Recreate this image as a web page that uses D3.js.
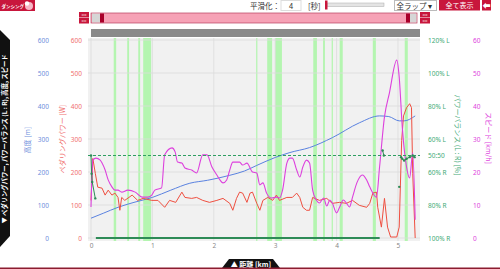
<!DOCTYPE html>
<html>
<head>
<meta charset="utf-8">
<script src="https://cdn.jsdelivr.net/npm/d3@7"></script>
<style>
  body { margin: 0; background: #fff; }
  svg { display: block; font-family: "Noto Sans CJK JP", "Noto Sans", sans-serif; }
</style>
</head>
<body>
<svg id="chart" width="500" height="269"></svg>
<script>
// ---- data ----
const xTicks = [0, 1, 2, 3, 4, 5];
const leftTicks = [0, 100, 200, 300, 400, 500, 600];
const speedTicks = [0, 10, 20, 30, 40, 50, 60];
const balanceTicks = [0, 20, 40, 50, 60, 80, 100, 120];
const balanceLabels = ["100% R", "80% R", "60% R", "50:50", "60% L", "80% L", "100% L", "120% L"];

// dancing sections [from km, to km]
const dancing = [
  [0.37, 0.41], [0.59, 0.62], [0.77, 0.80], [0.85, 0.98],
  [2.69, 2.71], [2.87, 2.95], [3.00, 3.11], [3.62, 3.68],
  [3.78, 3.81], [3.92, 3.94], [4.05, 4.10], [4.59, 4.64], [5.11, 5.16]
];

const elevKm = [0, 0.2, 0.44, 0.7, 1.0, 1.3, 1.61, 1.9, 2.26, 2.5, 2.7, 3.0, 3.24, 3.56, 3.93, 4.37, 4.7, 4.85, 5.02, 5.1, 5.28];
const elevation = [60, 75, 93, 108, 123, 145, 166, 175, 190, 203, 220, 244, 259, 274, 304, 349, 370, 368, 355, 355, 370];

const powerKm = [0, 0.03, 0.07, 0.11, 0.18, 0.23, 0.28, 0.34, 0.39, 0.44, 0.47, 0.50, 0.55, 0.67, 0.76, 0.85, 0.99,
  1.09, 1.20, 1.28, 1.38, 1.48, 1.53, 1.64, 1.72, 1.82, 1.93, 2.05, 2.15, 2.26, 2.31, 2.37, 2.42, 2.47, 2.54, 2.59,
  2.63, 2.70, 2.75, 2.80, 2.88, 2.96, 3.02, 3.07, 3.19, 3.28, 3.35, 3.40, 3.45, 3.51, 3.56, 3.61, 3.72, 3.84, 3.93,
  4.05, 4.16, 4.26, 4.37, 4.49, 4.54, 4.59, 4.65, 4.67, 4.73, 4.78, 4.83, 4.88, 4.98, 5.02, 5.06, 5.09, 5.14, 5.19,
  5.22, 5.24, 5.28];
const power = [114, 241, 196, 154, 151, 130, 145, 130, 136, 123, 84, 123, 114, 130, 114, 120, 114,
  114, 93, 114, 108, 139, 123, 120, 123, 114, 108, 114, 120, 105, 84, 120, 139, 136, 108, 136,
  139, 105, 84, 114, 123, 114, 130, 114, 123, 123, 136, 123, 93, 84, 84, 123, 114, 120, 105,
  108, 105, 114, 99, 93, 105, 136, 139, 93, 33, 120, 33, 3, 3, 33, 295, 370, 395, 407,
  395, 196, 0];

const speedKm = [0, 0.03, 0.08, 0.15, 0.18, 0.23, 0.28, 0.34, 0.39, 0.44, 0.50, 0.60, 0.72, 0.83, 0.93, 0.99,
  1.04, 1.15, 1.20, 1.32, 1.37, 1.41, 1.48, 1.53, 1.64, 1.72, 1.82, 1.89, 1.97, 2.05, 2.10, 2.15, 2.21, 2.26,
  2.31, 2.42, 2.47, 2.54, 2.63, 2.70, 2.75, 2.80, 2.86, 2.94, 3.02, 3.07, 3.12, 3.19, 3.24, 3.28, 3.35, 3.40,
  3.45, 3.51, 3.56, 3.61, 3.67, 3.72, 3.79, 3.84, 3.89, 3.93, 4.00, 4.05, 4.11, 4.16, 4.21, 4.26, 4.33, 4.42,
  4.49, 4.54, 4.65, 4.70, 4.78, 4.86, 4.98, 5.02, 5.07, 5.14, 5.19, 5.24, 5.28];
const speed = [9.4, 23.6, 24.2, 23.6, 22.7, 20.6, 17.6, 15.5, 14.5, 14.5, 13.9, 14.5, 13.9, 12.4, 12.4, 13.0,
  14.5, 15.2, 25.2, 27.3, 26.1, 23.0, 22.7, 21.2, 20.6, 19.7, 25.2, 25.2, 21.5, 19.1, 17.6, 16.7, 17.6, 20.6,
  23.0, 23.0, 22.1, 22.7, 20.0, 19.7, 16.1, 16.7, 13.6, 12.1, 12.4, 12.1, 14.5, 22.7, 24.2, 24.2, 20.6, 18.5,
  21.5, 23.6, 22.7, 14.5, 11.5, 10.6, 12.1, 9.7, 11.5, 10.6, 7.6, 9.4, 11.5, 10.6, 9.4, 12.4, 16.7, 19.1,
  17.6, 15.5, 12.4, 21.5, 36.7, 43.9, 53.9, 48.8, 33.6, 21.5, 18.2, 25.8, 5.5];

// L share in %, null = no reading
const balanceKm = [0, 0.01, 0.02, 0.07, null, 0.08, 4.70, null, 4.75, 4.77, null, 5.02, null, 5.05, 5.07, 5.10, 5.14, 5.19, 5.24, 5.27];
const balance = [50, 39, 34, 24, null, 0, 0, null, 53, 50, null, 31, null, 49, 48, 47, 48, 49, 50, 49];

// ---- chart ----
const svg = d3.select('#chart');
const red = '#c8163c';

const x = d3.scaleLinear([0, 5.3], [91, 416.4]);
const yLeft = d3.scaleLinear([0, 600], [238, 40]);
const yBal = d3.scaleLinear([0, 120], [238, 40]);
const ySpeed = d3.scaleLinear([0, 60], [238, 40]);

// top bar
let logo = svg.append('g');
logo.append('rect').attr('x', 0).attr('y', 0).attr('width', 35).attr('height', 11).attr('fill', red);
logo.append('text').attr('x', 1.5).attr('y', 7.5).attr('font-size', 4.5).attr('fill', '#fff').attr('font-weight', 'bold').text('ダンシング');
logo.append('circle').attr('cx', 29).attr('cy', 6).attr('r', 4).attr('fill', '#f6b7c6');
logo.append('circle').attr('cx', 27).attr('cy', 3.5).attr('r', 2.2).attr('fill', '#fff');

svg.append('text').attr('x', 250).attr('y', 8.5).attr('font-size', 7.5).attr('fill', '#333').text('平滑化：');
svg.append('rect').attr('x', 281).attr('y', 0.5).attr('width', 20).attr('height', 10).attr('fill', '#fff').attr('stroke', '#ddd');
svg.append('text').attr('x', 291).attr('y', 8.5).attr('font-size', 7.5).attr('fill', '#333').attr('text-anchor', 'middle').text('4');
svg.append('text').attr('x', 308).attr('y', 8.5).attr('font-size', 7.5).attr('fill', '#333').text('[秒]');
svg.append('rect').attr('x', 327).attr('y', 3).attr('width', 57).attr('height', 3.5).attr('fill', '#e4e4e4').attr('stroke', '#aaa').attr('stroke-width', 0.5);
svg.append('rect').attr('x', 325).attr('y', 0.5).attr('width', 2.5).attr('height', 9).attr('fill', red);
svg.append('rect').attr('x', 394.5).attr('y', 0.5).attr('width', 42).attr('height', 10).attr('fill', '#fff').attr('stroke', '#bbb');
svg.append('text').attr('x', 396.5).attr('y', 8.5).attr('font-size', 7.5).attr('fill', '#333').text('全ラップ ▾');
svg.append('rect').attr('x', 439).attr('y', 0).attr('width', 41).attr('height', 10.5).attr('fill', red);
svg.append('text').attr('x', 459.5).attr('y', 8).attr('font-size', 7).attr('fill', '#fff').attr('text-anchor', 'middle').text('全て表示');
svg.append('rect').attr('x', 482).attr('y', 0).attr('width', 9).attr('height', 10.5).attr('fill', red);
svg.append('text').attr('x', 486.5).attr('y', 8.5).attr('font-size', 8).attr('fill', '#fff').attr('text-anchor', 'middle').text('⬅');

// range navigator
function navButtons(bx) {
  [['>>', 12], ['<<', 18]].forEach(([t, by]) => {
    svg.append('rect').attr('x', bx).attr('y', by).attr('width', 10).attr('height', 5.5).attr('fill', red);
    svg.append('text').attr('x', bx + 5).attr('y', by + 4.5).attr('font-size', 4.5).attr('fill', '#fff').attr('text-anchor', 'middle').text(t);
  });
}
navButtons(79);
navButtons(420);
svg.append('rect').attr('x', 91).attr('y', 13).attr('width', 326).attr('height', 10).attr('fill', '#f6a2b6').attr('stroke', '#b8405e').attr('stroke-width', 0.7);
svg.append('rect').attr('x', 92).attr('y', 13.5).attr('width', 8).attr('height', 9).attr('fill', '#d6d6d6');
svg.append('rect').attr('x', 100).attr('y', 13.5).attr('width', 4).attr('height', 9).attr('fill', '#a8002a');
svg.append('rect').attr('x', 406).attr('y', 13.5).attr('width', 4).attr('height', 9).attr('fill', '#a8002a');
svg.append('rect').attr('x', 410).attr('y', 13.5).attr('width', 6.5).attr('height', 9).attr('fill', '#d6d6d6');
svg.append('rect').attr('x', 91).attr('y', 29).attr('width', 329).attr('height', 8).attr('fill', '#8a8a8a');

// plot background, bands, grid
svg.append('rect').attr('x', 88).attr('y', 38).attr('width', 332).attr('height', 203).attr('fill', '#f1f1f1');
svg.append('g').selectAll('rect').data(dancing).join('rect')
  .attr('x', d => x(d[0])).attr('width', d => Math.max(1, x(d[1]) - x(d[0])))
  .attr('y', 38).attr('height', 203).attr('fill', '#b4f5b0');
svg.append('g').selectAll('line').data(leftTicks).join('line')
  .attr('x1', 88).attr('x2', 420).attr('y1', d => yLeft(d)).attr('y2', d => yLeft(d))
  .attr('stroke', '#dcdcdc').attr('stroke-width', 0.8);
svg.append('g').selectAll('line').data(xTicks).join('line')
  .attr('x1', d => x(d)).attr('x2', d => x(d)).attr('y1', 38).attr('y2', 241)
  .attr('stroke', '#dcdcdc').attr('stroke-width', 0.8);

// axes
function styleAxis(g, color, anchor) {
  g.select('.domain').remove();
  g.selectAll('.tick line').remove();
  g.selectAll('text').attr('fill', color).attr('font-size', 6.5).attr('text-anchor', anchor)
    .attr('font-family', '"Noto Sans", sans-serif');
}
svg.append('g').attr('transform', 'translate(49,0)')
  .call(d3.axisLeft(yLeft).tickValues(leftTicks).tickSize(0).tickPadding(0))
  .call(g => styleAxis(g, '#6f8fdc', 'end'));
svg.append('g').attr('transform', 'translate(82,0)')
  .call(d3.axisLeft(yLeft).tickValues(leftTicks).tickSize(0).tickPadding(0))
  .call(g => styleAxis(g, '#f07070', 'end'));
svg.append('g').attr('transform', 'translate(428,0)')
  .call(d3.axisRight(yBal).tickValues(balanceTicks).tickSize(0).tickPadding(0)
    .tickFormat(d => balanceLabels[balanceTicks.indexOf(d)]))
  .call(g => styleAxis(g, '#44aa77', 'start'));
svg.append('g').attr('transform', 'translate(473,0)')
  .call(d3.axisRight(ySpeed).tickValues(speedTicks).tickSize(0).tickPadding(0))
  .call(g => styleAxis(g, '#dd44dd', 'start'));
svg.append('g').attr('transform', 'translate(0,243)')
  .call(d3.axisBottom(x).tickValues(xTicks).tickSize(0).tickPadding(0).tickFormat(d3.format('d')))
  .call(g => styleAxis(g, '#888', 'middle'));

function axisTitle(tx, ty, rot, color, t) {
  svg.append('text').attr('transform', `translate(${tx},${ty}) rotate(${rot})`)
    .attr('text-anchor', 'middle').attr('font-size', 7).attr('fill', color).text(t);
}
axisTitle(29.5, 140, -90, '#6f8fdc', '高度 [m]');
axisTitle(64.5, 139, -90, '#f07070', 'ペダリングパワー [W]');
axisTitle(455, 135, 90, '#44aa77', 'パワーバランス (L : R) [%]');
axisTitle(486, 138, 90, '#dd44dd', 'スピード [km/h]');

// series
const pts = (ks, vs) => ks.map((k, i) => [k, vs[i]]);
const lineOf = y => d3.line().defined(d => d[0] != null && d[1] != null).x(d => x(d[0])).y(d => y(d[1]));

svg.append('path').datum(pts(elevKm, elevation)).attr('d', lineOf(yLeft).curve(d3.curveMonotoneX))
  .attr('fill', 'none').attr('stroke', '#5a82e0').attr('stroke-width', 1);
svg.append('path').datum(pts(powerKm, power)).attr('d', lineOf(yLeft))
  .attr('fill', 'none').attr('stroke', '#ef4f40').attr('stroke-width', 1);
svg.append('path').datum(pts(speedKm, speed)).attr('d', lineOf(ySpeed).curve(d3.curveMonotoneX))
  .attr('fill', 'none').attr('stroke', '#dd40dd').attr('stroke-width', 1.1);

// 50:50 reference
svg.append('line').attr('x1', 88).attr('x2', 420).attr('y1', yBal(50)).attr('y2', yBal(50))
  .attr('stroke', '#2f9e62').attr('stroke-width', 1).attr('stroke-dasharray', '3,2');

let balPts = pts(balanceKm, balance);
svg.append('path').datum(balPts).attr('d', lineOf(yBal))
  .attr('fill', 'none').attr('stroke', '#2e8b57').attr('stroke-width', 1);
svg.append('path').datum(balPts.map(d => (d[1] === 0 ? d : [null, null]))).attr('d', lineOf(yBal))
  .attr('fill', 'none').attr('stroke', '#2e8b57').attr('stroke-width', 2.2);
svg.append('g').selectAll('circle').data(balPts.filter(d => d[1] != null && d[1] > 0)).join('circle')
  .attr('cx', d => x(d[0])).attr('cy', d => yBal(d[1])).attr('r', 1.2).attr('fill', '#2e8b57');

// side and bottom tabs
svg.append('path').attr('d', 'M0,30 L10,40 L10,236 L0,247 Z').attr('fill', '#111');
svg.append('text').attr('transform', 'translate(7.2,139) rotate(-90)').attr('text-anchor', 'middle')
  .attr('font-size', 6.3).attr('font-weight', 'bold').attr('fill', '#fff')
  .text('▼ ペダリングパワー, パワーバランス (L : R), 高度, スピード');
svg.append('path').attr('d', 'M222,268 L229,259 L273,259 L280,268 Z').attr('fill', '#111');
svg.append('text').attr('x', 251).attr('y', 266.5).attr('text-anchor', 'middle')
  .attr('font-size', 7).attr('font-weight', 'bold').attr('fill', '#fff').text('▲ 距離 [km]');
svg.append('rect').attr('x', 0).attr('y', 267.5).attr('width', 500).attr('height', 1.5).attr('fill', '#8b1c30');
</script>
</body>
</html>
